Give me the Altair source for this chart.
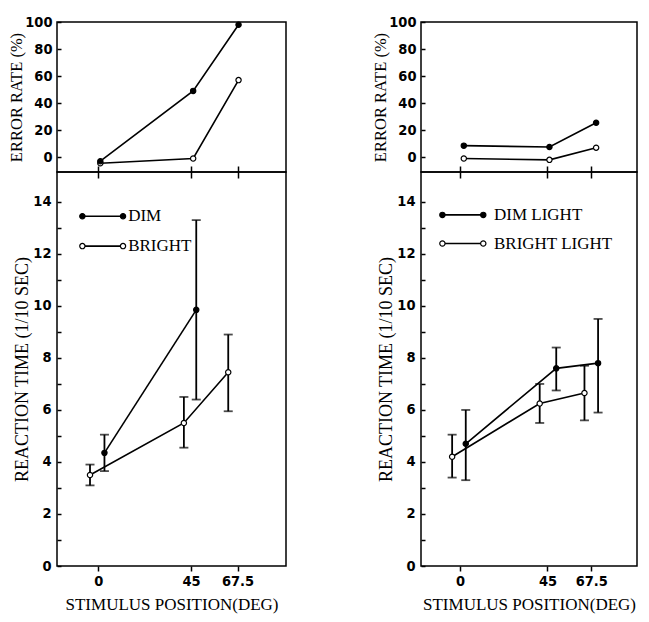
import altair as alt
import pandas as pd

# ---------------- shared axis values ----------------
X_TICKS = [0, 45, 67.5]
ERR_TICKS = [0, 20, 40, 60, 80, 100]
RT_TICKS = list(range(0, 15))
X_DOMAIN = [-20, 91]
ERR_DOMAIN = [-11, 100]
RT_DOMAIN = [0, 15.15]

# ---------------- left panel ----------------
L_LEGEND = ["DIM", "BRIGHT"]
L_ERR_X = [1, 46, 68]
L_ERR_DIM = [-3, 49, 98]
L_ERR_BRIGHT = [-4.5, -1, 57]
L_RT_DIM_X = [3, 47.5]
L_RT_DIM = [4.35, 9.85]
L_RT_DIM_LO = [3.65, 6.4]
L_RT_DIM_HI = [5.05, 13.3]
L_RT_BRIGHT_X = [-4, 41.5, 63]
L_RT_BRIGHT = [3.5, 5.5, 7.45]
L_RT_BRIGHT_LO = [3.1, 4.55, 5.95]
L_RT_BRIGHT_HI = [3.9, 6.5, 8.9]
L_LEG_Y = [13.45, 12.3]
L_LEG_X = [-7.7, 12]
L_LEG_TEXT_X = 14.5

# ---------------- right panel ----------------
R_LEGEND = ["DIM LIGHT", "BRIGHT LIGHT"]
R_ERR_X = [2, 46, 70]
R_ERR_DIM = [8.5, 7.5, 25.5]
R_ERR_BRIGHT = [-1, -2, 7]
R_RT_DIM_X = [3, 49.5, 71]
R_RT_DIM = [4.7, 7.6, 7.8]
R_RT_DIM_LO = [3.3, 6.75, 5.9]
R_RT_DIM_HI = [6.0, 8.4, 9.5]
R_RT_BRIGHT_X = [-4, 41, 64]
R_RT_BRIGHT = [4.2, 6.25, 6.65]
R_RT_BRIGHT_LO = [3.4, 5.5, 5.6]
R_RT_BRIGHT_HI = [5.05, 7.0, 7.7]
R_LEG_Y = [13.5, 12.4]
R_LEG_X = [-9, 12]
R_LEG_TEXT_X = 17.5

SERIF = "Liberation Serif"
NARROW = "Liberation Sans Narrow, DejaVu Sans Condensed, Liberation Sans"

FILL = alt.Fill("kind:N", scale=alt.Scale(domain=["dim", "bright"], range=["black", "white"]), legend=None)
XSCALE = alt.Scale(domain=X_DOMAIN, nice=False, zero=False)


def err_chart(xs, dim, bright, width):
    n = len(xs)
    df = pd.DataFrame({"x": xs + xs, "v": bright + dim, "kind": ["bright"] * n + ["dim"] * n})
    x_axis = alt.Axis(values=X_TICKS, labels=False, title=None, tickSize=12, offset=-6)
    y_axis = alt.Axis(values=ERR_TICKS, title="ERROR RATE (%)", tickSize=4, offset=-4,
                      labelPadding=5, titlePadding=0, titleFontSize=16.5)
    base = alt.Chart(df).encode(
        x=alt.X("x:Q", scale=XSCALE, axis=x_axis),
        y=alt.Y("v:Q", scale=alt.Scale(domain=ERR_DOMAIN, nice=False, zero=False), axis=y_axis),
    )
    line = base.mark_line(color="black", strokeWidth=1.6).encode(detail="kind:N")
    pts = base.mark_point(shape="circle", filled=True, stroke="black", strokeWidth=1.2,
                          size=28, opacity=1).encode(fill=FILL)
    return (line + pts).properties(width=width, height=150)


def rt_chart(dim_x, dim, dim_lo, dim_hi, br_x, br, br_lo, br_hi,
             names, leg_y, leg_x, leg_tx, width):
    nd, nb = len(dim_x), len(br_x)
    df = pd.DataFrame({
        "x": br_x + dim_x, "v": br + dim, "lo": br_lo + dim_lo, "hi": br_hi + dim_hi,
        "kind": ["bright"] * nb + ["dim"] * nd,
    })
    kinds = ["dim", "bright"]
    leg_line = pd.DataFrame({"kind": kinds, "y": leg_y, "x0": [leg_x[0]] * 2, "x1": [leg_x[1]] * 2})
    leg_pts = pd.DataFrame({
        "kind": [k for k in kinds for _ in leg_x],
        "y": [y for y in leg_y for _ in leg_x],
        "x": leg_x * 2,
    })
    leg_txt = pd.DataFrame({"kind": kinds, "y": leg_y, "label": names, "tx": [leg_tx] * 2})

    x_axis = alt.Axis(values=X_TICKS, title="STIMULUS POSITION(DEG)", tickSize=5, format=".1~f",
                      labelPadding=3, titlePadding=9, labelFlush=False)
    y_axis = alt.Axis(values=RT_TICKS, title="REACTION TIME (1/10 SEC)", tickSize=4, offset=-4,
                      labelPadding=6, titlePadding=1, titleFontSize=18,
                      labelExpr="datum.value % 2 === 0 ? datum.label : ''")
    yscale = alt.Scale(domain=RT_DOMAIN, nice=False, zero=False)

    def X(f):
        return alt.X(f"{f}:Q", scale=XSCALE, axis=x_axis)

    def Y(f):
        return alt.Y(f"{f}:Q", scale=yscale, axis=y_axis)

    base = alt.Chart(df)
    line = base.mark_line(color="black", strokeWidth=1.6).encode(x=X("x"), y=Y("v"), detail="kind:N")
    bars = base.mark_rule(color="black", strokeWidth=1.8).encode(x=X("x"), y=Y("lo"), y2="hi:Q")
    cap_lo = base.mark_tick(orient="horizontal", size=9, thickness=1.8, color="black").encode(x=X("x"), y=Y("lo"))
    cap_hi = base.mark_tick(orient="horizontal", size=9, thickness=1.8, color="black").encode(x=X("x"), y=Y("hi"))
    pts = base.mark_point(shape="circle", filled=True, stroke="black", strokeWidth=1.2,
                          size=28, opacity=1).encode(x=X("x"), y=Y("v"), fill=FILL)
    lg_line = alt.Chart(leg_line).mark_rule(color="black", strokeWidth=1.6).encode(
        x=X("x0"), x2="x1:Q", y=Y("y"))
    lg_pts = alt.Chart(leg_pts).mark_point(shape="circle", filled=True, stroke="black",
                                           strokeWidth=1.2, size=28, opacity=1).encode(
        x=X("x"), y=Y("y"), fill=FILL)
    lg_txt = alt.Chart(leg_txt).mark_text(align="left", baseline="middle", font=SERIF,
                                          fontSize=17, color="black").encode(
        x=X("tx"), y=Y("y"), text="label:N")
    return alt.layer(line, bars, cap_lo, cap_hi, pts, lg_line, lg_pts, lg_txt).properties(
        width=width, height=394)


left = alt.vconcat(
    err_chart(L_ERR_X, L_ERR_DIM, L_ERR_BRIGHT, 229),
    rt_chart(L_RT_DIM_X, L_RT_DIM, L_RT_DIM_LO, L_RT_DIM_HI,
             L_RT_BRIGHT_X, L_RT_BRIGHT, L_RT_BRIGHT_LO, L_RT_BRIGHT_HI,
             L_LEGEND, L_LEG_Y, L_LEG_X, L_LEG_TEXT_X, 229),
    spacing=0, bounds="flush",
)
right = alt.vconcat(
    err_chart(R_ERR_X, R_ERR_DIM, R_ERR_BRIGHT, 216),
    rt_chart(R_RT_DIM_X, R_RT_DIM, R_RT_DIM_LO, R_RT_DIM_HI,
             R_RT_BRIGHT_X, R_RT_BRIGHT, R_RT_BRIGHT_LO, R_RT_BRIGHT_HI,
             R_LEGEND, R_LEG_Y, R_LEG_X, R_LEG_TEXT_X, 216),
    spacing=0, bounds="flush",
)

chart = alt.hconcat(left, right, spacing=85).properties(
    padding={"left": 0, "top": 5, "right": 2, "bottom": 0},
    background="white",
).configure_view(
    stroke="black", strokeWidth=1.5,
).configure_axis(
    grid=False, domain=False,
    labelFont=NARROW, labelFontSize=14.5, labelFontWeight="bold", labelColor="black",
    titleFont=SERIF, titleFontWeight="normal", titleFontSize=17, titleColor="black",
    tickColor="black", tickWidth=1.5,
)

chart.save("out.html", embed_options={"renderer": "svg", "actions": False})
